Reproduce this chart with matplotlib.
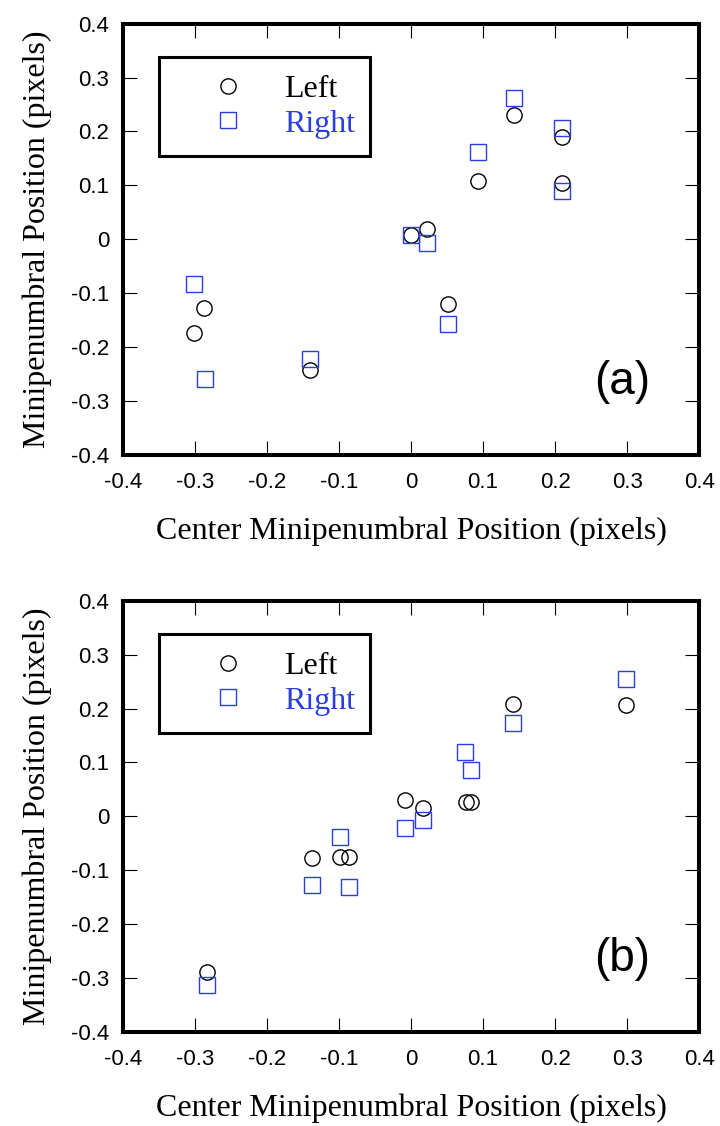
import matplotlib
matplotlib.use('Agg')
import matplotlib.pyplot as plt
from matplotlib.lines import Line2D
from matplotlib.ticker import FixedLocator, FixedFormatter

plt.rcParams['axes.unicode_minus'] = False

# panel (a)
a_left_x = [-0.302, -0.287, -0.141, 0.000, 0.022, 0.051, 0.093, 0.143, 0.210, 0.210]
a_left_y = [-0.173, -0.127, -0.243, 0.008, 0.019, -0.120, 0.109, 0.231, 0.189, 0.104]
a_right_x = [-0.302, -0.286, -0.141, 0.000, 0.022, 0.051, 0.093, 0.143, 0.210, 0.210]
a_right_y = [-0.083, -0.259, -0.222, 0.008, -0.006, -0.158, 0.162, 0.262, 0.207, 0.089]

# panel (b)
b_left_x = [-0.284, -0.137, -0.099, -0.086, -0.009, 0.017, 0.076, 0.083, 0.141, 0.299]
b_left_y = [-0.289, -0.078, -0.076, -0.075, 0.031, 0.015, 0.027, 0.027, 0.209, 0.206]
b_right_x = [-0.284, -0.137, -0.099, -0.086, -0.009, 0.017, 0.075, 0.083, 0.141, 0.299]
b_right_y = [-0.313, -0.128, -0.038, -0.131, -0.021, -0.007, 0.120, 0.086, 0.174, 0.255]

tick_vals = [-0.4, -0.3, -0.2, -0.1, 0.0, 0.1, 0.2, 0.3, 0.4]
tick_labels = ['-0.4', '-0.3', '-0.2', '-0.1', '0', '0.1', '0.2', '0.3', '0.4']

blue = '#2a3ee0'
serif = 'Liberation Serif'
sans = 'Liberation Sans'


def draw_panel(ax, lx, ly, rx, ry, tag):
    ax.plot(lx, ly, 'o', ms=11, mfc='none', mec='black', mew=1.0, ls='none')
    ax.plot(rx, ry, 's', ms=11, mfc='none', mec=blue, mew=1.0, ls='none')

    ax.set_xlim(-0.4, 0.4)
    ax.set_ylim(-0.4, 0.4)
    for a in (ax.xaxis, ax.yaxis):
        a.set_major_locator(FixedLocator(tick_vals))
        a.set_major_formatter(FixedFormatter(tick_labels))
    ax.tick_params(direction='in', top=True, right=True, length=10, width=0.8,
                   labelsize=16, pad=10)
    for lab in ax.get_xticklabels() + ax.get_yticklabels():
        lab.set_family(sans)
    ax.tick_params(axis='x', pad=12)
    for sp in ax.spines.values():
        sp.set_linewidth(2.9)

    ax.set_xlabel('Center Minipenumbral Position (pixels)', fontsize=23, family=serif)
    ax.set_ylabel('Minipenumbral Position (pixels)', fontsize=23, family=serif)
    ax.xaxis.set_label_coords(0.5, -0.142)
    ax.yaxis.set_label_coords(-0.123, 0.5)

    ax.text(0.293, -0.264, tag, fontsize=33, family=sans, ha='center', va='center')

    handles = [Line2D([], [], marker='o', ms=11, mfc='none', mec='black', mew=1.0, ls='none'),
               Line2D([], [], marker='s', ms=11, mfc='none', mec=blue, mew=1.0, ls='none')]
    leg = ax.legend(handles, ['Left', 'Right'], loc='upper left',
                    bbox_to_anchor=(0.0625, 0.923, 0.3665, 0.0), mode='expand',
                    prop={'family': serif, 'size': 23}, fancybox=False,
                    framealpha=1, edgecolor='black', borderpad=0.55,
                    handlelength=3.2, handletextpad=0.15, labelspacing=0.17,
                    borderaxespad=0)
    leg.get_frame().set_linewidth(2.2)
    leg.get_texts()[1].set_color(blue)


fig = plt.figure(figsize=(7.2, 11.26), dpi=100)
ax_a = fig.add_axes([0.171, 0.596, 0.8, 0.383])
ax_b = fig.add_axes([0.171, 0.0835, 0.8, 0.383])

draw_panel(ax_a, a_left_x, a_left_y, a_right_x, a_right_y, '(a)')
draw_panel(ax_b, b_left_x, b_left_y, b_right_x, b_right_y, '(b)')

plt.savefig('out.png', dpi=100)
